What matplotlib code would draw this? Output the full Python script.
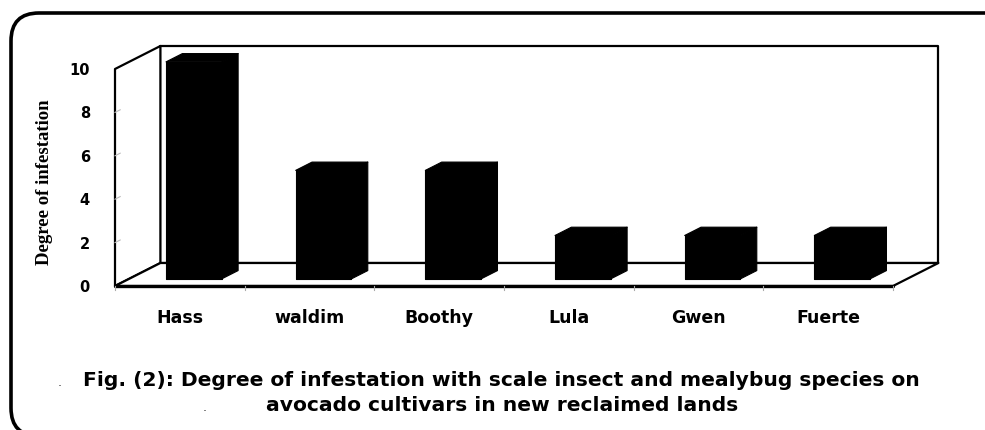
import matplotlib.pyplot as plt
from matplotlib.patches import Polygon, FancyBboxPatch
import numpy as np

# data
cultivars = ["Hass", "waldim", "Boothy", "Lula", "Gwen", "Fuerte"]
infestation = [10, 5, 5, 2, 2, 2]
y_ticks = [0, 2, 4, 6, 8, 10]

caption_1 = "Fig. (2): Degree of infestation with scale insect and mealybug species on"
caption_2 = "avocado cultivars in new reclaimed lands"

# fake 3-D geometry (in data units)
DX, DY = 0.35, 1.06        # depth of the whole box
F1, F2 = 0.31, 0.67        # bar front / back as a fraction of depth
HALF_W = 0.215

W, H = 985, 431
fig = plt.figure(figsize=(W / 100, H / 100), dpi=100)
ax = fig.add_axes([115 / W, 1 - 287 / H, 778 / W, 217 / H])
ax.set_xlim(-0.5, len(cultivars) - 0.5)
ax.set_ylim(0, 10)
ax.axis("off")

n = len(cultivars)
x0, x1 = -0.5, n - 0.5
ymax = 10


def poly(pts, fc="white", ec="black", lw=1.5, z=1):
    p = Polygon(pts, closed=True, facecolor=fc, edgecolor=ec, linewidth=lw,
                zorder=z, clip_on=False, joinstyle="round")
    ax.add_patch(p)


# walls and floor
poly([(x0 + DX, DY), (x1 + DX, DY), (x1 + DX, ymax + DY), (x0 + DX, ymax + DY)], lw=1.6)
poly([(x0, 0), (x0, ymax), (x0 + DX, ymax + DY), (x0 + DX, DY)], lw=1.6)
poly([(x0, 0), (x1, 0), (x1 + DX, DY), (x0 + DX, DY)], lw=1.6)
ax.plot([x0, x1], [0, 0], color="black", lw=2.4, zorder=2, clip_on=False,
        solid_capstyle="round")

# faint tick marks
for k in range(n + 1):
    ax.plot([x0 + k, x0 + k], [0, -0.18], color="#aaaaaa", lw=0.8, clip_on=False)
for t in y_ticks[1:-1]:
    ax.plot([x0, x0 + 0.04], [t, t + 0.12], color="#bbbbbb", lw=0.8, clip_on=False)

# bars
for i, v in enumerate(infestation):
    sx1, sy1 = F1 * DX, F1 * DY
    sx2, sy2 = F2 * DX, F2 * DY
    l, r = i - HALF_W, i + HALF_W
    front = [(l + sx1, sy1), (r + sx1, sy1), (r + sx1, v + sy1), (l + sx1, v + sy1)]
    top = [(l + sx1, v + sy1), (r + sx1, v + sy1), (r + sx2, v + sy2), (l + sx2, v + sy2)]
    side = [(r + sx1, sy1), (r + sx2, sy2), (r + sx2, v + sy2), (r + sx1, v + sy1)]
    for face in (front, top, side):
        poly(face, fc="black", ec="black", lw=0.8, z=3)

# tick labels
for t in y_ticks:
    ax.annotate(str(t), xy=(x0, t), xytext=(-25 * 0.72, -5 * 0.72),
                textcoords="offset points", ha="right", va="baseline",
                fontsize=10.5, fontweight="bold", family="DejaVu Sans",
                annotation_clip=False)

for i, name in enumerate(cultivars):
    ax.annotate(name, xy=(i, 0), xytext=(0, -36 * 0.72), textcoords="offset points",
                ha="center", va="baseline", fontsize=12.5, fontweight="bold",
                family="DejaVu Sans", annotation_clip=False)

fig.text(45 / W, 1 - 182 / H, "Degree of infestation", rotation=90,
         ha="center", va="center", fontsize=13.5, fontweight="bold",
         family="Liberation Serif")

# caption
fig.text(501 / W, 1 - 386 / H, caption_1, ha="center", va="baseline",
         fontsize=14.6, fontweight="bold", family="DejaVu Sans")
fig.text(502 / W, 1 - 411 / H, caption_2, ha="center", va="baseline",
         fontsize=14.6, fontweight="bold", family="DejaVu Sans")
fig.text(60 / W, 1 - 386 / H, ".", ha="center", va="baseline", fontsize=9, color="#333333")
fig.text(205 / W, 1 - 411 / H, ".", ha="center", va="baseline", fontsize=9, color="#333333")

# rounded outer frame (partly off the canvas, as in the scan)
frame = FancyBboxPatch((11 / 100, -6 / 100), 1002 / 100, 423 / 100,
                       boxstyle="round,pad=0,rounding_size=0.28",
                       transform=fig.dpi_scale_trans, facecolor="none",
                       edgecolor="black", linewidth=2.6, clip_on=False)
fig.patches.append(frame)

fig.savefig("out.png", dpi=100)
